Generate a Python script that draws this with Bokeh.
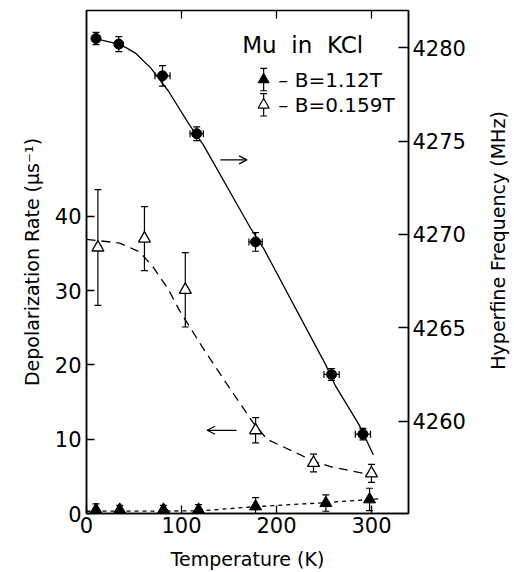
import math
from bokeh.plotting import figure
from bokeh.layouts import row
from bokeh.models import (Range1d, LinearAxis, FixedTicker, Whisker, TeeHead,
                          ColumnDataSource, Label, Arrow, OpenHead)
from bokeh.core.properties import value
from bokeh.embed import file_html
from bokeh.resources import INLINE

# ---------------- data ----------------
# Hyperfine frequency (MHz), filled circles, right axis
hf_temp = [10, 34, 80, 116, 178, 258, 291]
hf_freq = [4280.5, 4280.2, 4278.5, 4275.4, 4269.6, 4262.5, 4259.3]
hf_temp_err = [0, 0, 8, 7, 7, 8, 8]
hf_freq_err = [0.33, 0.40, 0.55, 0.37, 0.50, 0.32, 0.31]

# solid guide curve through the hyperfine points
hf_curve_temp = [10, 17, 34, 42, 52, 68, 86, 108, 123, 172, 187, 252, 262, 287, 302]
hf_curve_freq = [4280.5, 4280.4, 4280.2, 4280.0, 4279.7, 4278.9, 4277.7, 4275.9,
                 4274.8, 4270.4, 4269.2, 4263.0, 4261.9, 4259.8, 4258.2]

# Depolarization rate, B = 0.159 T (open triangles), left axis
lo_temp = [12, 61, 104, 178, 239, 300]
lo_rate = [35.8, 37.0, 30.1, 11.2, 6.8, 5.4]
lo_rate_err = [7.8, 4.3, 5.0, 1.7, 1.2, 1.2]
lo_curve_temp = [0, 35, 56, 70, 86, 98, 121, 150, 175, 190, 215, 240, 260, 292, 304]
lo_curve_rate = [36.9, 36.4, 35.2, 33.2, 30.2, 27.3, 22.6, 17.0, 12.3, 10.0, 8.5,
                 7.0, 6.2, 5.4, 5.2]

# Depolarization rate, B = 1.12 T (filled triangles), left axis
hi_temp = [10, 35, 81, 118, 178, 252, 298]
hi_rate = [0.5, 0.5, 0.5, 0.5, 0.95, 1.4, 1.9]
hi_rate_err = [0.8, 0.6, 0.6, 0.7, 1.2, 1.1, 1.5]
hi_curve_temp = [0, 120, 175, 250, 310]
hi_curve_rate = [0.3, 0.35, 0.9, 1.45, 2.0]

x_ticks = [0, 100, 200, 300]
rate_ticks = [0, 10, 20, 30, 40]
freq_ticks = [4260, 4265, 4270, 4275, 4280]

FONT = "DejaVu Sans"
X_MAX = 339
Y_MAX = 67.7

# ---------------- main figure ----------------
p = figure(width=484, height=572, output_backend="svg", toolbar_location=None,
           x_range=Range1d(0, X_MAX), y_range=Range1d(0, Y_MAX),
           min_border_left=86, min_border_right=76,
           min_border_top=10, min_border_bottom=59)
p.extra_y_ranges = {"hf": Range1d(4255.05, 4282.0)}
p.xgrid.visible = False
p.ygrid.visible = False
p.outline_line_color = "black"
p.outline_line_width = 1.5
p.background_fill_color = "white"
p.border_fill_color = "white"


def style_axis(ax, ticks, tick_len=8, font_size="21px"):
    ax.ticker = FixedTicker(ticks=ticks)
    ax.minor_tick_line_color = None
    ax.major_tick_in = tick_len
    ax.major_tick_out = 0
    ax.major_tick_line_color = "black"
    ax.major_tick_line_width = 1.3
    ax.axis_line_color = "black"
    ax.axis_line_width = 1.5
    ax.major_label_text_font = FONT
    ax.major_label_text_font_size = font_size
    ax.major_label_text_color = "black"
    ax.axis_label_text_font = FONT
    ax.axis_label_text_font_size = "19px"
    ax.axis_label_text_font_style = "normal"
    ax.axis_label_text_color = "black"


xa = p.xaxis[0]
style_axis(xa, x_ticks)
xa.axis_label = "Temperature (K)"
xa.major_label_standoff = 3
xa.axis_label_standoff = 12

ya = p.yaxis[0]
style_axis(ya, rate_ticks)
ya.axis_label = "Depolarization Rate (\u03bcs\u207b\u00b9)"
ya.major_label_standoff = 5
ya.axis_label_standoff = 9

ra = LinearAxis(y_range_name="hf")
style_axis(ra, freq_ticks, tick_len=10)
ra.major_label_standoff = 4
p.add_layout(ra, "right")

# inward ticks along the top edge
p.scatter(x_ticks[1:], [Y_MAX] * 3, marker="dash", angle=math.pi / 2, size=16,
          line_color="black", line_width=1.3)

# ---------------- curves ----------------
p.line(hf_curve_temp, hf_curve_freq, y_range_name="hf", line_color="black", line_width=1.3)
p.line(lo_curve_temp, lo_curve_rate, line_color="black", line_width=1.3, line_dash="9 6")
p.line(hi_curve_temp, hi_curve_rate, line_color="black", line_width=1.3, line_dash="4 4")


# ---------------- error bars ----------------
def vbars(xs, ys, errs, rng="default"):
    src = ColumnDataSource(dict(x=xs, lo=[y - e for y, e in zip(ys, errs)],
                                hi=[y + e for y, e in zip(ys, errs)]))
    w = Whisker(source=src, base="x", lower="lo", upper="hi", dimension="height",
                line_color="black", line_width=1.2,
                upper_head=TeeHead(size=7, line_width=1.2, line_color="black"),
                lower_head=TeeHead(size=7, line_width=1.2, line_color="black"),
                y_range_name=rng)
    p.add_layout(w)


def hbars(xs, ys, errs, rng="default"):
    keep = [i for i, e in enumerate(errs) if e > 0]
    src = ColumnDataSource(dict(y=[ys[i] for i in keep],
                                lo=[xs[i] - errs[i] for i in keep],
                                hi=[xs[i] + errs[i] for i in keep]))
    w = Whisker(source=src, base="y", lower="lo", upper="hi", dimension="width",
                line_color="black", line_width=1.2,
                upper_head=TeeHead(size=7, line_width=1.2, line_color="black"),
                lower_head=TeeHead(size=7, line_width=1.2, line_color="black"),
                y_range_name=rng)
    p.add_layout(w)


vbars(hf_temp, hf_freq, hf_freq_err, "hf")
hbars(hf_temp, hf_freq, hf_temp_err, "hf")
vbars(lo_temp, lo_rate, lo_rate_err)
vbars(hi_temp, hi_rate, hi_rate_err)

# ---------------- markers ----------------
p.scatter(hf_temp, hf_freq, y_range_name="hf", marker="circle", size=10,
          fill_color="black", line_color="black")
p.scatter(lo_temp, lo_rate, marker="triangle", size=12, fill_color="white",
          line_color="black", line_width=1.3)
p.scatter(hi_temp, hi_rate, marker="triangle", size=12, fill_color="black",
          line_color="black")

# ---------------- annotations ----------------
NB = "\u00a0"
p.add_layout(Label(x=164, y=63.0, text="Mu" + NB * 2 + "in" + NB * 2 + "KCl",
                   text_font=FONT, text_font_size="23px", text_baseline="middle",
                   text_color="black"))

# legend samples
leg_x = 186.5
leg_y = [58.4, 55.0]
vbars([leg_x], [leg_y[0]], [1.5])
vbars([leg_x], [leg_y[1]], [1.5])
p.scatter([leg_x], [leg_y[0]], marker="triangle", size=11, fill_color="black", line_color="black")
p.scatter([leg_x], [leg_y[1]], marker="triangle", size=11, fill_color="white",
          line_color="black", line_width=1.2)
p.add_layout(Label(x=202, y=leg_y[0], text="\u2013 B=1.12T", text_font=FONT,
                   text_font_size="20px", text_baseline="middle", text_color="black"))
p.add_layout(Label(x=202, y=leg_y[1], text="\u2013 B=0.159T", text_font=FONT,
                   text_font_size="20px", text_baseline="middle", text_color="black"))

# arrows pointing to the relevant axis
p.add_layout(Arrow(x_start=141, y_start=47.6, x_end=169, y_end=47.6,
                   line_color="black", line_width=1.2,
                   end=OpenHead(size=8, line_color="black", line_width=1.2)))
p.add_layout(Arrow(x_start=158, y_start=11.2, x_end=127, y_end=11.2,
                   line_color="black", line_width=1.2,
                   end=OpenHead(size=8, line_color="black", line_width=1.2)))

# ---------------- right-hand title strip (reads bottom-to-top) ----------------
q = figure(width=30, height=572, output_backend="svg", toolbar_location=None,
           x_range=Range1d(0, 30), y_range=Range1d(0, 572),
           x_axis_location=None, y_axis_location=None,
           min_border_left=0, min_border_right=0, min_border_top=0, min_border_bottom=0)
q.xgrid.visible = False
q.ygrid.visible = False
q.outline_line_color = None
q.background_fill_color = "white"
q.border_fill_color = "white"
q.text(x=[13], y=[310.5], text=["Hyperfine Frequency (MHz)"], angle=math.pi / 2,
       text_align="center", text_baseline="middle", text_font=value(FONT),
       text_font_size="19px", text_color="black")

layout = row(p, q, spacing=0)
open("out.html", "w").write(file_html(layout, INLINE))
